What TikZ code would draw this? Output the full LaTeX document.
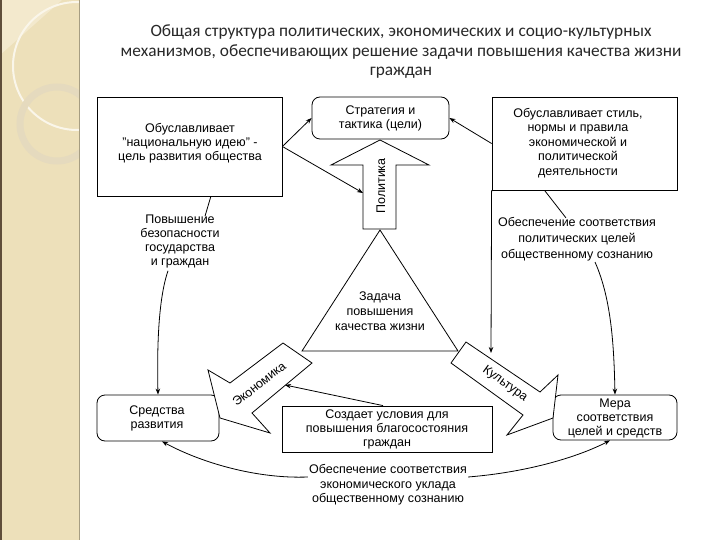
\documentclass[tikz,border=0pt]{standalone}
\usepackage{fontspec}
\setmainfont{Liberation Sans}
\newfontfamily\titlefont{Carlito}
\usetikzlibrary{arrows.meta,calc}
\definecolor{strip}{RGB}{237,224,186}
\definecolor{stripl}{RGB}{243,233,205}
\definecolor{ringc}{RGB}{229,218,190}
\definecolor{edgec}{RGB}{95,78,58}
\definecolor{titlec}{RGB}{40,40,40}
\tikzset{
  lw/.style={line width=0.8pt},
  box/.style={draw,lw,fill=white,inner sep=0pt},
  rbox/.style={box,rounded corners=8pt},
  txt/.style={align=center,inner sep=1pt,font=\fontsize{12.5}{14}\selectfont},
  arr/.style={lw,-{Stealth[length=6pt,width=4.5pt]}},
  ln/.style={lw},
  blk/.style={draw,lw,fill=white,line join=miter}
}
\begin{document}
\begin{tikzpicture}[x=1pt,y=-1pt]
\useasboundingbox (0,0) rectangle (720,540);
\fill[white] (0,0) rectangle (720,540);
% decorative strip
\fill[strip] (0,0) rectangle (80,540);
\begin{scope}
  \clip (0,0) rectangle (79,540);
  \fill[stripl] (0,0) -- (62,0) -- (0,55) -- cycle;
  \draw[white!70!strip,line width=2pt] (77,66) circle (64);
  \draw[ringc,line width=7pt] (57,124) circle (37);
\end{scope}
\draw[edgec,line width=2pt] (1,0) -- (1,540);
\draw[strip!70!black,line width=0.8pt] (79.5,0) -- (79.5,540);

% title
\node[align=center,text=titlec,font=\titlefont\fontsize{17.3}{19.5}\selectfont] (title) at (401,52)
  {Общая структура политических, экономических и социо-культурных\\
   механизмов, обеспечивающих решение задачи повышения качества жизни\\
   граждан};

% top boxes
\node[box,minimum width=185pt,minimum height=99pt] (tl) at (189.5,146.5) {};
\node[txt] (tltext) at (190,143) {Обуславливает\\"национальную идею" -\\цель развития общества};
\node[rbox,minimum width=137pt,minimum height=42pt,txt] (strat) at (380.5,118) {Стратегия и\\тактика (цели)};
\node[box,minimum width=185pt,minimum height=93pt] (tr) at (584.5,143.5) {};
\node[txt,font=\fontsize{12.5}{14.5}\selectfont] (trtext) at (578,143) {Обуславливает стиль,\\нормы и правила\\экономической и\\политической\\деятельности};

% Politika block arrow
\draw[blk] (380,140) -- (429,165) -- (396,165) -- (396,229) -- (363,229) -- (363,165) -- (331,165) -- cycle;
\node[txt,rotate=90] (pol) at (381,186) {Политика};
\coordinate (polin) at (363,193);

% triangle
\coordinate (tA) at (380,230);
\coordinate (tL) at (302,351);
\coordinate (tR) at (458,351);
\draw[lw,fill=white] (tA) -- (tR) -- (tL) -- cycle;
\node[txt,font=\fontsize{12.5}{15}\selectfont] (task) at (380,311) {Задача\\повышения\\качества жизни};

% labels
\node[txt,fill=white] (lblL) at (180,241) {Повышение\\безопасности\\государства\\и граждан};
\node[txt,fill=white,font=\fontsize{12.5}{16}\selectfont] (lblR) at (577,239) {Обеспечение соответствия\\политических целей\\общественному сознанию};

% bottom boxes
\node[rbox,minimum width=122pt,minimum height=46pt] (sred) at (158,418) {};
\node[txt] (sredtext) at (157,418) {Средства\\развития};
\node[rbox,minimum width=124pt,minimum height=45pt] (mera) at (615,417.5) {};
\node[txt] (meratext) at (615,418) {Мера\\соответствия\\целей и средств};
\node[box,minimum width=210pt,minimum height=46pt] (sozd) at (387,429) {};
\node[txt] (sozdtext) at (387,429) {Создает условия для\\повышения благосостояния\\граждан};
\node[txt,fill=white,font=\fontsize{12.5}{14.5}\selectfont] (lblB) at (388,485) {Обеспечение соответствия\\экономического уклада\\общественному сознанию};

% Ekonomika block arrow
\draw[blk] (283,343) -- (312,363) -- (252,413) -- (270,433) -- (220,418) -- (208,370) -- (230,383) -- cycle;
\node[txt,rotate=38] (econ) at (259,384) {Экономика};
\coordinate (econin) at (285,385);

% Kultura block arrow
\draw[blk] (466,342) -- (540,392) -- (558,375) -- (553,418) -- (507,435) -- (523,415) -- (451,363) -- cycle;
\node[txt,rotate=-36] (kult) at (505,384) {Культура};
\coordinate (kultin) at (491,353);

% connectors
\draw[arr] (tl.east) -- (strat.west);
\draw[arr] (tl.east) -- (polin);
\draw[arr] (tr.west) -- (strat.east);
\draw[arr] (tr.south west) -- (kultin);
\draw[ln] ($(tl.south west)!0.615!(tl.south east)$) -- ($(lblL.north)+(25,3)$);
\draw[ln] ($(tr.south west)!0.285!(tr.south east)$) -- ($(lblR.north)+(-11,2)$);
\draw[arr] ($(lblL.south)+(-12,2)$) .. controls (158,300) and (157,350) .. (sred.north);
\draw[arr] ($(lblR.south)+(18,0)$) .. controls (612,300) and (614,350) .. (mera.north);
\draw[arr] ($(sozd.north)+(-4,0)$) -- (econin);
\draw[arr] ($(lblB.west)+(0,-8)$) .. controls (255,479) and (200,462) .. ($(sred.south)+(4,0)$);
\draw[arr] ($(lblB.east)+(0,-8)$) .. controls (530,472) and (580,456) .. ($(mera.south)+(-5,0)$);
\end{tikzpicture}
\end{document}
